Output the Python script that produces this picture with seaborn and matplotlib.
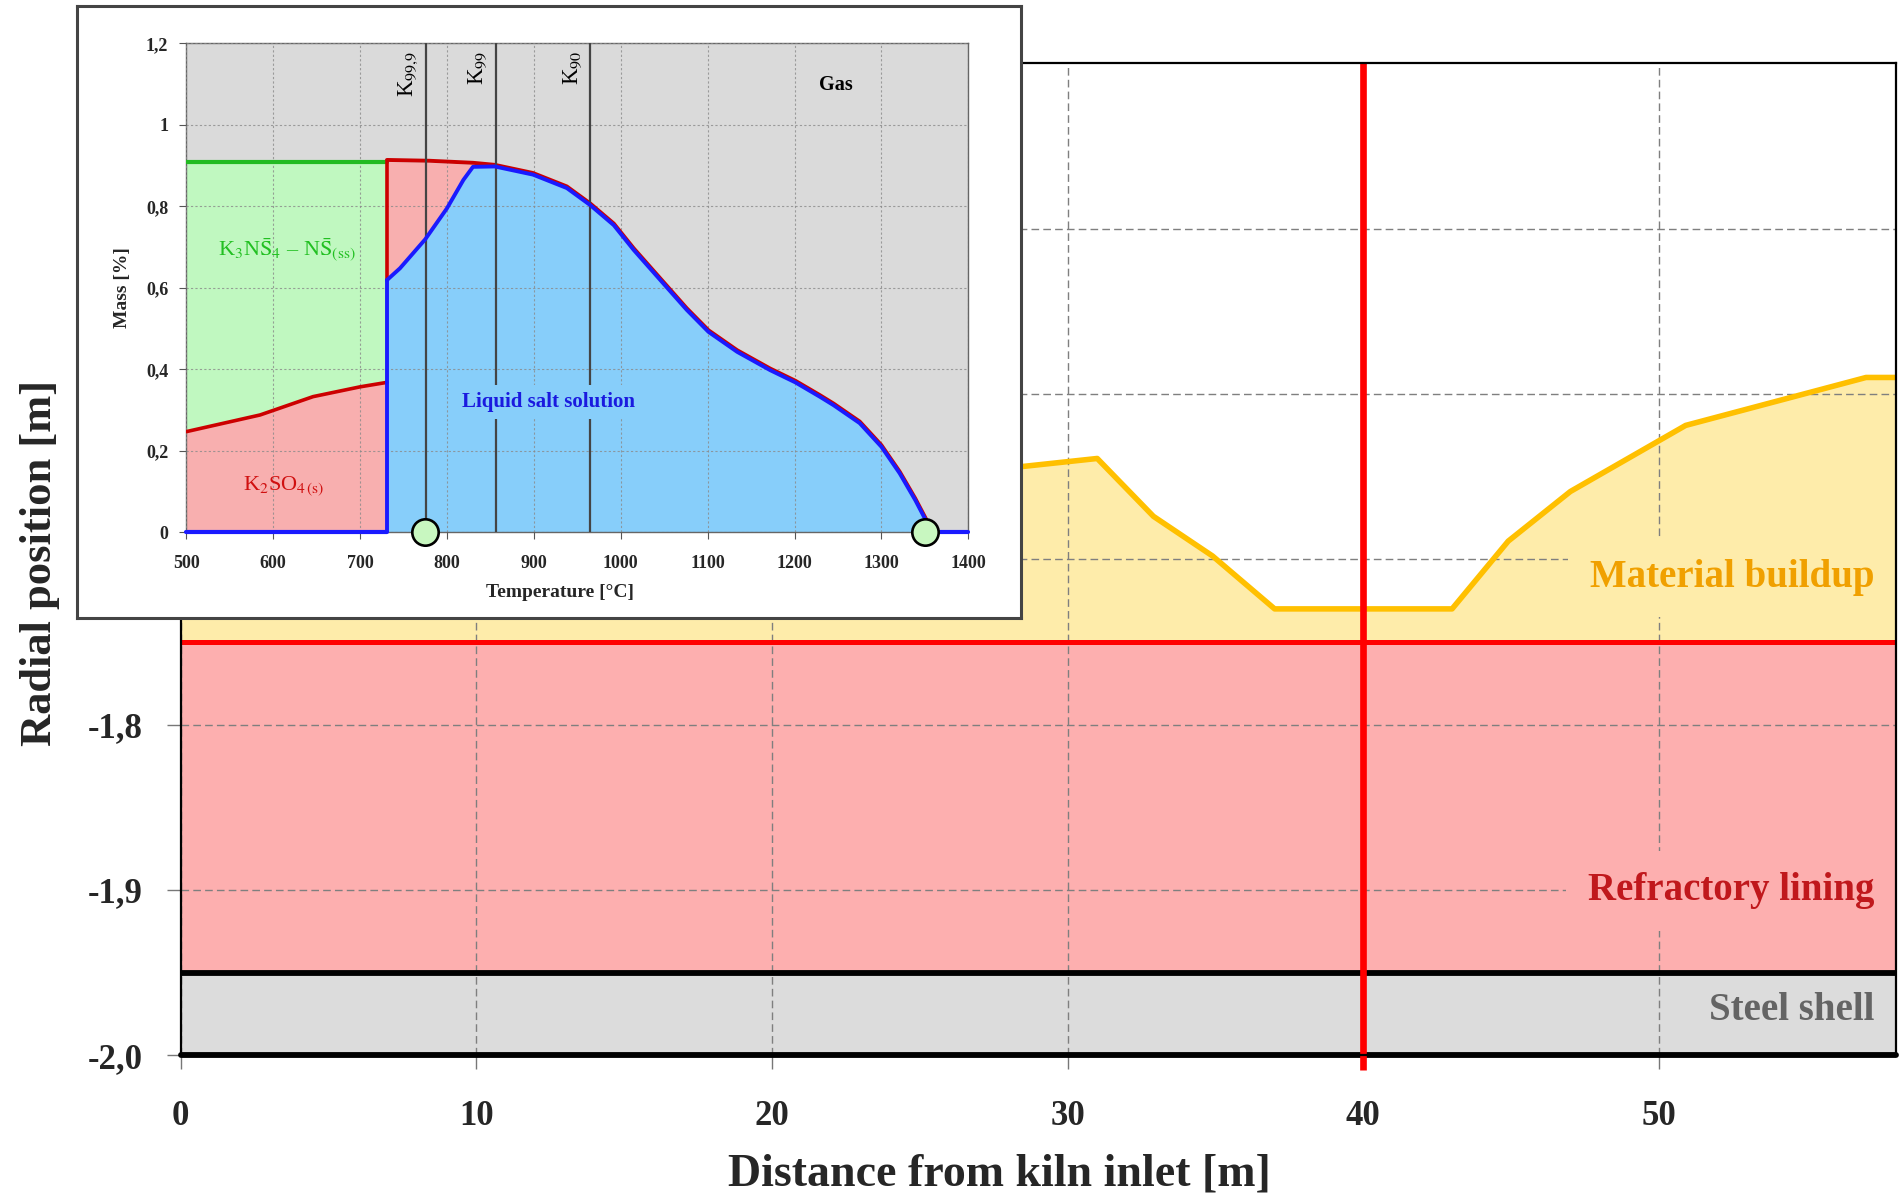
import numpy as np
import matplotlib
matplotlib.use("Agg")
import matplotlib.pyplot as plt
import matplotlib.transforms as mtransforms
import seaborn as sns

# ---------------- main chart data ----------------
dist_m = [0, 5, 10, 15, 20, 25, 28.4, 31.0, 32.9, 34.9, 37.0, 43.0, 44.9, 47.0, 50.9, 57.0, 58.0]
buildup_top = [-1.66, -1.65, -1.64, -1.645, -1.65, -1.648, -1.644, -1.639, -1.674, -1.698,
               -1.730, -1.730, -1.689, -1.659, -1.619, -1.590, -1.590]
shell_bottom = -2.0
shell_top = -1.95
lining_top = -1.75
x_limits = [0, 58]
y_limits = [-2.0, -1.4]
x_ticks = [0, 10, 20, 30, 40, 50]
y_ticks = [-2.0, -1.9, -1.8, -1.7, -1.6, -1.5]
y_tick_labels = ["-2,0", "-1,9", "-1,8", "-1,7", "-1,6", "-1,5"]
section_x = 40
layer_names = ["Material buildup", "Refractory lining", "Steel shell"]
layer_label_x = 57.27
layer_label_y = [-1.7165, -1.9064, -1.979]

# ---------------- inset (phase diagram) data ----------------
k2so4_T = [500, 585, 646, 700, 731]
k2so4_M = [0.247, 0.288, 0.333, 0.357, 0.368]
solid_top_M = 0.910
liq_rise_T = [731, 746, 775, 800, 819, 830]
liq_rise_M = [0.619, 0.648, 0.719, 0.795, 0.865, 0.897]
total_T = [731, 780, 830, 855, 899, 938, 965, 992, 1015, 1049, 1076, 1101, 1134, 1172,
           1201, 1229, 1245, 1275, 1300, 1321, 1339, 1352, 1356]
total_M = [0.910, 0.908, 0.903, 0.898, 0.878, 0.845, 0.803, 0.754, 0.693, 0.611, 0.546,
           0.492, 0.443, 0.398, 0.368, 0.333, 0.312, 0.268, 0.210, 0.145, 0.079, 0.026, 0.0]
k_lines_T = [776, 856, 965]
k_labels = [r"K$_{99{,}9}$", r"K$_{99}$", r"K$_{90}$"]
marker_T = [775, 1350]
inset_xticks = [500, 600, 700, 800, 900, 1000, 1100, 1200, 1300, 1400]
inset_yticks = [0, 0.2, 0.4, 0.6, 0.8, 1.0, 1.2]
inset_yticklabels = ["0", "0,2", "0,4", "0,6", "0,8", "1", "1,2"]

# ---------------- style ----------------
sns.set_theme(style="white")
plt.rcParams["font.family"] = ["Liberation Serif", "DejaVu Serif"]
plt.rcParams["mathtext.fontset"] = "stix"

W, H = 1900, 1195
fig = plt.figure(figsize=(19, 11.95), dpi=100)
fig.patch.set_facecolor("white")

# ---------------- main axes ----------------
ax = fig.add_axes([180.6 / W, 1 - 1055.2 / H, 1715 / W, 991.8 / H])
ax.set_facecolor("white")
ax.set_xlim(*x_limits)
ax.set_ylim(*y_limits)

ax.fill_between(x_limits, shell_bottom, shell_top, color="#dcdcdc", lw=0, zorder=1)
ax.fill_between(x_limits, shell_top, lining_top, color="#fdafaf", lw=0, zorder=1)
ax.fill_between(dist_m, lining_top, buildup_top, color="#feecaa", lw=0, zorder=1)

sns.lineplot(x=dist_m, y=buildup_top, ax=ax, color="#ffc000", lw=4.0, zorder=4)
ax.axhline(lining_top, color="#ff0000", lw=3.6, zorder=4)
ax.axhline(shell_top, color="black", lw=4.2, zorder=4)
ax.axhline(shell_bottom, color="black", lw=4.2, zorder=4, clip_on=False)
ax.axvline(section_x, ymin=-0.015, ymax=1, color="#ff0000", lw=4.8, zorder=6,
           clip_on=False, solid_capstyle="butt")

ax.set_xticks(x_ticks)
ax.set_yticks(y_ticks)
ax.set_yticklabels(y_tick_labels)
ax.grid(True, color="#7f7f7f", ls=(0, (5.5, 3)), lw=1.0)
ax.set_axisbelow(False)
ax.tick_params(axis="both", direction="out", length=10, width=1.0, color="#777777",
               labelsize=25, bottom=True, left=True)
ax.tick_params(axis="x", pad=22)
ax.tick_params(axis="y", pad=17)
for lbl in ax.get_xticklabels() + ax.get_yticklabels():
    lbl.set_fontweight("bold")
for s in ax.spines.values():
    s.set_color("black")
    s.set_linewidth(1.6)
    s.set_zorder(7)

label_colors = ["#f0a000", "#c0181c", "#646464"]
label_bg = ["#feecaa", "#fdafaf", None]
for name, yv, col, bg in zip(layer_names, layer_label_y, label_colors, label_bg):
    kw = {}
    if bg is not None:
        kw["bbox"] = dict(boxstyle="square,pad=0.55", fc=bg, ec="none")
    ax.text(layer_label_x, yv, name, ha="right", va="baseline", fontsize=28,
            fontweight="bold", color=col, zorder=5, **kw)

fig.text(999 / W, 1 - 1186 / H, "Distance from kiln inlet [m]", ha="center",
         va="baseline", fontsize=33, fontweight="bold")
fig.text(40 / W, 1 - 563 / H, "Radial position [m]", ha="center", va="center",
         rotation=90, fontsize=32, fontweight="bold")

# ---------------- inset ----------------
box = fig.add_axes([77 / W, 1 - 618 / H, 944 / W, 612 / H], zorder=10)
box.set_facecolor("white")
box.set_xticks([])
box.set_yticks([])
for s in box.spines.values():
    s.set_color("#444444")
    s.set_linewidth(2.2)

ax_in = fig.add_axes([186.2 / W, 1 - 532.3 / H, 782.1 / W, 488.9 / H], zorder=11)
ax_in.set_facecolor("#dadada")
ax_in.set_xlim(500, 1400)
ax_in.set_ylim(0, 1.2)

liq_T = liq_rise_T + [t for t in total_T if t > 845]
liq_M = liq_rise_M + [m for t, m in zip(total_T, total_M) if t > 845]
tot_at_rise = np.interp(liq_rise_T, total_T, total_M)

ax_in.fill_between(k2so4_T, 0, k2so4_M, color="#f8afaf", lw=0, zorder=1)
ax_in.fill_between(k2so4_T, k2so4_M, solid_top_M, color="#c0f8c0", lw=0, zorder=1)
ax_in.fill_between(liq_rise_T, liq_rise_M, tot_at_rise, color="#f8afaf", lw=0, zorder=1)
ax_in.fill_between(liq_T, 0, liq_M, color="#87cefa", lw=0, zorder=1)

ax_in.set_xticks(inset_xticks)
ax_in.set_yticks(inset_yticks)
ax_in.set_yticklabels(inset_yticklabels)
ax_in.grid(True, color="#8a8a8a", ls=(0, (2, 2)), lw=0.8, alpha=0.8)
ax_in.set_axisbelow(False)

# phase boundary lines
up = mtransforms.offset_copy(ax_in.transData, fig=fig, x=0, y=1.6, units="dots")
ax_in.plot([500, k2so4_T[-1]], [solid_top_M, solid_top_M], color="#22bb22", lw=3, zorder=4)
sns.lineplot(x=k2so4_T, y=k2so4_M, ax=ax_in, color="#cc0000", lw=2.6, zorder=4)
ax_in.plot([k2so4_T[-1], k2so4_T[-1]], [liq_rise_M[0], solid_top_M], color="#cc0000",
           lw=2.6, zorder=4)
ax_in.plot(total_T, total_M, color="#cc0000", lw=2.8, zorder=4, transform=up,
           solid_joinstyle="round")
sns.lineplot(x=liq_T, y=liq_M, ax=ax_in, color="#1a1aff", lw=2.8, zorder=5)
ax_in.plot([k2so4_T[-1], k2so4_T[-1]], [0, liq_rise_M[0]], color="#1a1aff", lw=2.8, zorder=5)
ax_in.plot([500, k2so4_T[-1]], [0, 0], color="#1a1aff", lw=3, zorder=5, clip_on=False)
ax_in.plot([total_T[-1], 1400], [0, 0], color="#1a1aff", lw=3, zorder=5, clip_on=False)

ax_in.vlines(k_lines_T, 0, 1.2, color="#444444", lw=1.6, zorder=4)
for t, lab in zip(k_lines_T, k_labels):
    ax_in.text(t - 20, 1.182, lab, rotation=90, ha="center", va="top", fontsize=16.5,
               color="black", zorder=6)

ax_in.plot(marker_T, [0] * len(marker_T), ls="none", marker="o", ms=19,
           mfc="#c8f7c0", mec="black", mew=1.9, zorder=8, clip_on=False)

ax_in.text(1248, 1.098, "Gas", ha="center", va="center", fontsize=14.5,
           fontweight="bold", color="black", zorder=6)
ax_in.text(917, 0.32, "Liquid salt solution", ha="center", va="center", fontsize=15,
           fontweight="bold", color="#1a1adf", zorder=6,
           bbox=dict(boxstyle="square,pad=0.35", fc="#87cefa", ec="none"))
ax_in.text(612, 0.112, r"K$_2$SO$_{4\,\mathrm{(s)}}$", ha="center", va="center",
           fontsize=16, color="#d01010", zorder=6)
ax_in.text(616, 0.693,
           r"K$_3$N$\bar{\mathrm{S}}_4$ – N$\bar{\mathrm{S}}_{\mathrm{(ss)}}$",
           ha="center", va="center", fontsize=16, color="#22c022", zorder=6)

ax_in.tick_params(axis="both", direction="out", length=5, width=0.8, color="#555555",
                  labelsize=13, bottom=True, left=True)
ax_in.tick_params(axis="x", pad=11)
ax_in.tick_params(axis="y", pad=8)
for lbl in ax_in.get_xticklabels() + ax_in.get_yticklabels():
    lbl.set_fontweight("bold")
for s in ax_in.spines.values():
    s.set_color("#666666")
    s.set_linewidth(1.0)

ax_in.text(0.478, -0.124, "Temperature [°C]", transform=ax_in.transAxes, ha="center",
           va="center", fontsize=14, fontweight="bold")
ax_in.text(-0.082, 0.5, "Mass [%]", transform=ax_in.transAxes, ha="center",
           va="center", rotation=90, fontsize=14, fontweight="bold")

fig.savefig("out.png", dpi=100, facecolor="white")
